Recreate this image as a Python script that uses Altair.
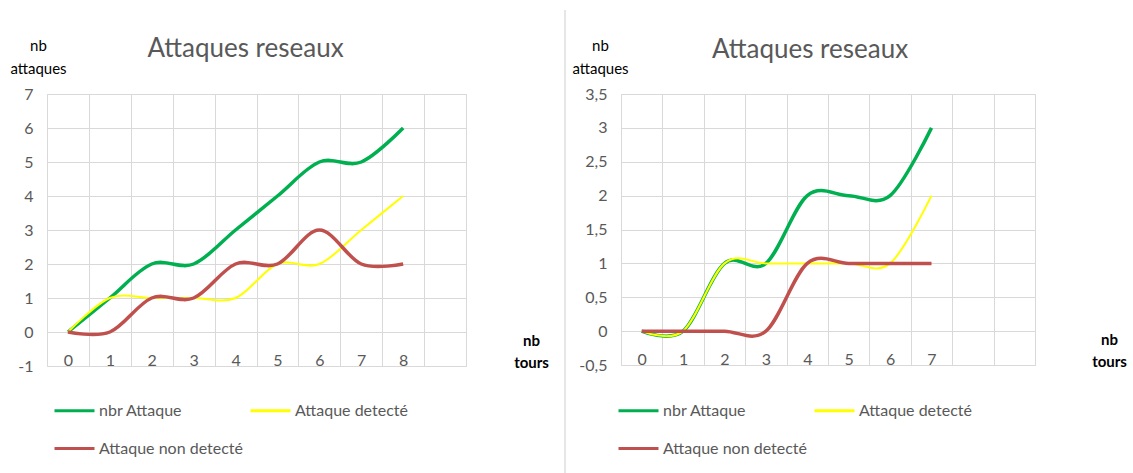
import altair as alt
import pandas as pd

# Series names, colours and line widths
SERIES = ["nbr Attaque", "Attaque detecté", "Attaque non detecté"]
COLORS = ["#00b050", "#ffff00", "#c0504d"]
WIDTHS = [3.5, 2.0, 3.5]

# First simulation: 9 turns
tours_a = [0, 1, 2, 3, 4, 5, 6, 7, 8]
nbr_a = [0, 1, 2, 2, 3, 4, 5, 5, 6]
det_a = [0, 1, 1, 1, 1, 2, 2, 3, 4]
non_a = [0, 0, 1, 1, 2, 2, 3, 2, 2]

# Second simulation: 8 turns
tours_b = [0, 1, 2, 3, 4, 5, 6, 7]
nbr_b = [0, 0, 1, 1, 2, 2, 2, 3]
det_b = [0, 0, 1, 1, 1, 1, 1, 2]
non_b = [0, 0, 0, 0, 1, 1, 1, 1]

# Category slots on the x axis (10 slots, labels only where there is data)
X_BOUNDS = [i - 0.5 for i in range(11)]
Y_TICKS_A = [-1, 0, 1, 2, 3, 4, 5, 6, 7]
Y_TICKS_B = [-0.5, 0, 0.5, 1, 1.5, 2, 2.5, 3, 3.5]

FONT = "Lato"
GREY = "#595959"
GRID = "#d9d9d9"


def to_long(tours, columns):
    rows = []
    for name, values in zip(SERIES, columns):
        for t, v in zip(tours, values):
            rows.append({"tour": t, "serie": name, "nb": v})
    return pd.DataFrame(rows)


def panel(df, tours, y_ticks, width, height, ytitle_x, xtitle_x, title_dx,
          legend_x, sep_x, sep_opacity):
    x_scale = alt.Scale(domain=[X_BOUNDS[0], X_BOUNDS[-1]], nice=False, zero=False)
    y_scale = alt.Scale(domain=[y_ticks[0], y_ticks[-1]], nice=False, zero=False)

    x_axis = alt.Axis(
        orient="bottom",
        values=tours,
        grid=False,
        ticks=False,
        domain=False,
        labelPadding=-1,
        labelBaseline="alphabetic",
        labelFontSize=16,
        labelColor=GREY,
        labelFont=FONT,
        title=["nb", "tours"],
        titleAngle=0,
        titleX=xtitle_x,
        titleY=-33,
        titleAlign="center",
        titleBaseline="top",
        titleLineHeight=22,
        titleFont=FONT,
        titleFontSize=15,
        titleFontWeight="bold",
        titleColor="#000000",
    )
    y_axis = alt.Axis(
        values=y_ticks,
        grid=True,
        gridColor=GRID,
        ticks=False,
        domain=False,
        labelPadding=14,
        labelFontSize=16,
        labelColor=GREY,
        labelFont=FONT,
        labelExpr="replace(datum.value + '', '.', ',')",
        title=["nb", "attaques"],
        titleAngle=0,
        titleX=ytitle_x,
        titleY=-56,
        titleAlign="center",
        titleBaseline="top",
        titleLineHeight=23,
        titleFont=FONT,
        titleFontSize=15,
        titleFontWeight="normal",
        titleColor="#000000",
    )
    color = alt.Color(
        "serie:N",
        scale=alt.Scale(domain=SERIES, range=COLORS),
        legend=alt.Legend(
            title=None,
            orient="none",
            direction="horizontal",
            legendX=legend_x,
            legendY=295,
            columns=2,
            columnPadding=1,
            rowPadding=8,
            symbolType="stroke",
            symbolSize=1600,
            symbolStrokeWidth=3,
            labelFont=FONT,
            labelFontSize=16,
            labelColor=GREY,
            labelOffset=3,
            labelLimit=300,
        ),
    )

    # vertical grid at the slot boundaries, with y axis and horizontal grid
    frame = alt.Chart(df).mark_point(opacity=0).encode(
        x=alt.X(
            "tour:Q",
            scale=x_scale,
            axis=alt.Axis(
                orient="top",
                values=X_BOUNDS,
                grid=True,
                gridColor=GRID,
                labels=False,
                ticks=False,
                domain=False,
                title=None,
            ),
        ),
        y=alt.Y("nb:Q", scale=y_scale, axis=y_axis),
    )

    # one smoothed line per series, drawn green, yellow, then red on top
    lines = [
        alt.Chart(df).transform_filter(alt.datum.serie == name)
        .mark_line(interpolate="cardinal", strokeWidth=w)
        .encode(
            x=alt.X("tour:Q", scale=x_scale, axis=x_axis if i == 0 else None),
            y=alt.Y("nb:Q", scale=y_scale, axis=y_axis),
            color=color,
        )
        for i, (name, w) in enumerate(zip(SERIES, WIDTHS))
    ]

    sep = alt.Chart(pd.DataFrame({"k": [0]})).mark_rule(
        color="#e6e6e6", strokeWidth=2, opacity=sep_opacity
    ).encode(
        x=alt.value(sep_x),
        y=alt.value(-84),
        y2=alt.value(height + 109),
    )

    return alt.layer(frame, *lines, sep).properties(
        width=width,
        height=height,
        title=alt.TitleParams(
            "Attaques reseaux",
            anchor="middle",
            frame="group",
            dx=title_dx,
            dy=57,
            font=FONT,
            fontSize=26,
            fontWeight="normal",
            color=GREY,
        ),
    )


left = panel(to_long(tours_a, [nbr_a, det_a, non_a]), tours_a, Y_TICKS_A,
             419, 272, -9, 484, -11, 6, 518, 1)
right = panel(to_long(tours_b, [nbr_b, det_b, non_b]), tours_b, Y_TICKS_B,
              414, 271, -21, 488, -18, -4, 0, 0)

chart = alt.hconcat(left, right, spacing=4).properties(
    padding={"left": 9, "top": 8, "right": 0, "bottom": 0}
).resolve_scale(color="independent").configure_view(
    stroke=GRID
).configure(background="white")

chart.save("out.html", embed_options={"renderer": "svg", "actions": False})
